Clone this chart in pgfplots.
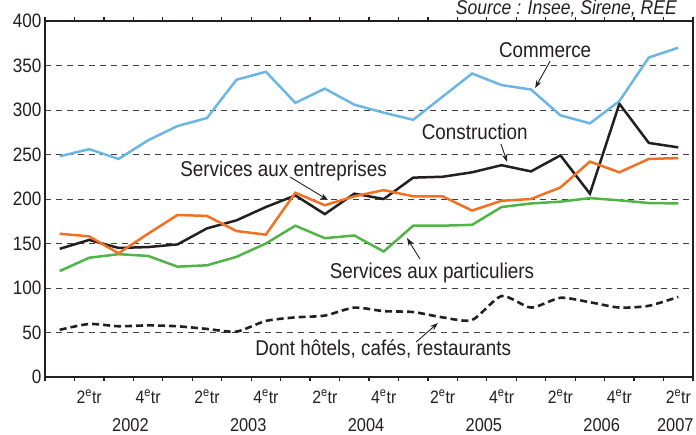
\documentclass[border=0pt]{standalone}
\usepackage{fontspec}
\setmainfont{Liberation Sans}[FakeStretch=0.88]
\usepackage{pgfplots}
\pgfplotsset{compat=1.18}
\usetikzlibrary{arrows.meta}
\definecolor{cblue}{RGB}{108,182,228}
\definecolor{corange}{RGB}{242,112,36}
\definecolor{cgreen}{RGB}{80,180,70}
\definecolor{cblack}{RGB}{35,31,32}
\begin{document}
\begin{tikzpicture}
\begin{axis}[name=ax, scale only axis, width=648bp, height=356bp,
  xmin=0.5, xmax=22.5, ymin=0, ymax=400,
  axis line style={line width=2.2bp, cblack},
  ytick={0,50,...,400},
  ymajorgrids,
  grid style={dash pattern=on 6bp off 5bp, line width=1bp, black!75},
  xtick={2,4,...,22},
  xticklabels={2\textsuperscript{e}tr,4\textsuperscript{e}tr,2\textsuperscript{e}tr,4\textsuperscript{e}tr,2\textsuperscript{e}tr,4\textsuperscript{e}tr,2\textsuperscript{e}tr,4\textsuperscript{e}tr,2\textsuperscript{e}tr,4\textsuperscript{e}tr,2\textsuperscript{e}tr},
  minor xtick={0.5,1.5,...,22.5},
  tick align=outside, major tick length=0pt, minor tick length=4bp,
  tick style={cblack, line width=1.2bp},
  y tick label style={font=\fontsize{19.5}{22}\selectfont, text=cblack},
  x tick label style={font=\fontsize{18}{20}\selectfont, text=cblack, anchor=base, yshift=-26bp},
  /pgf/number format/assume math mode=true,
  clip=false,
]
\addplot[cgreen, line width=2.5bp] coordinates {(1,119) (2,134) (3,138) (4,136) (5,124) (6,125.5) (7,135) (8,150) (9,170) (10,156) (11,159) (12,141) (13,170) (14,170) (15,171) (16,191) (17,195) (18,197) (19,201) (20,198.5) (21,195.5) (22,195)};
\addplot[cblack, line width=2.5bp] coordinates {(1,144) (2,154) (3,145) (4,146) (5,149) (6,167) (7,176) (8,191) (9,204) (10,183) (11,206) (12,200) (13,224) (14,225) (15,230) (16,238) (17,231) (18,249) (19,206) (20,307) (21,263) (22,258)};
\addplot[corange, line width=2.5bp] coordinates {(1,161) (2,158) (3,139) (4,161) (5,182) (6,181) (7,164) (8,160) (9,207) (10,193) (11,203) (12,210) (13,203) (14,203) (15,187) (16,198) (17,200) (18,213) (19,242) (20,230) (21,245) (22,246)};
\addplot[cblue, line width=2.5bp] coordinates {(1,248) (2,256) (3,245) (4,266) (5,282) (6,291) (7,334) (8,343) (9,308) (10,324) (11,306) (12,297) (13,289) (14,315) (15,341) (16,328) (17,323) (18,294) (19,285) (20,310) (21,359) (22,370)};
\addplot[cblack, line width=2.6bp, dash pattern=on 7bp off 4bp, smooth, tension=0.4] coordinates {(1,53) (2,59.6) (3,57) (4,58) (5,57) (6,54) (7,51) (8,63) (9,67) (10,69) (11,78) (12,74) (13,73) (14,67) (15,64) (16,91) (17,78) (18,89) (19,84) (20,78) (21,80) (22,90)};

\tikzset{ann/.style={font=\fontsize{21.5}{24}\selectfont, text=cblack, anchor=base, inner sep=0pt},
         yr/.style={font=\fontsize{18.7}{21}\selectfont, text=cblack, anchor=base, inner sep=0pt},
         arr/.style={-{Stealth[length=8bp,width=5.5bp]}, line width=0.9bp, cblack}}
\node[ann] at (axis cs:17.48,359.2) {Commerce};
\draw[arr] (axis cs:17.65,355) -- (axis cs:17.14,324.7);
\node[ann] at (axis cs:15.09,267) {Construction};
\draw[arr] (axis cs:15.98,261.8) -- (axis cs:16.19,241.6);
\node[ann] at (axis cs:8.6,225.8) {Services aux entreprises};
\draw[arr] (axis cs:8.82,224.7) -- (axis cs:10.11,198.9);
\node[ann] at (axis cs:13.64,110.5) {Services aux particuliers};
\draw[arr] (axis cs:13.23,132.6) -- (axis cs:12.79,156.2);
\node[ann] at (axis cs:11.98,24.7) {Dont hôtels, cafés, restaurants};
\draw[arr] (axis cs:13.1,39.3) -- (axis cs:13.84,60.7);

\node[yr] at (axis cs:3.4,-61.5) {2002};
\node[yr] at (axis cs:7.4,-61.5) {2003};
\node[yr] at (axis cs:11.4,-61.5) {2004};
\node[yr] at (axis cs:15.4,-61.5) {2005};
\node[yr] at (axis cs:19.4,-61.5) {2006};
\node[yr] at (axis cs:21.9,-61.5) {2007};
\end{axis}
\node[font=\fontsize{20}{22}\selectfont\itshape, text=cblack, anchor=base east, inner sep=0pt] at ([xshift=-16bp,yshift=6.3bp]ax.north east) {Source : Insee, Sirene, REE};
\pgfresetboundingbox
\path[use as bounding box] ([xshift=-45bp,yshift=-58bp]ax.south west) rectangle ([xshift=3bp,yshift=21bp]ax.north east);
\end{tikzpicture}
\end{document}
